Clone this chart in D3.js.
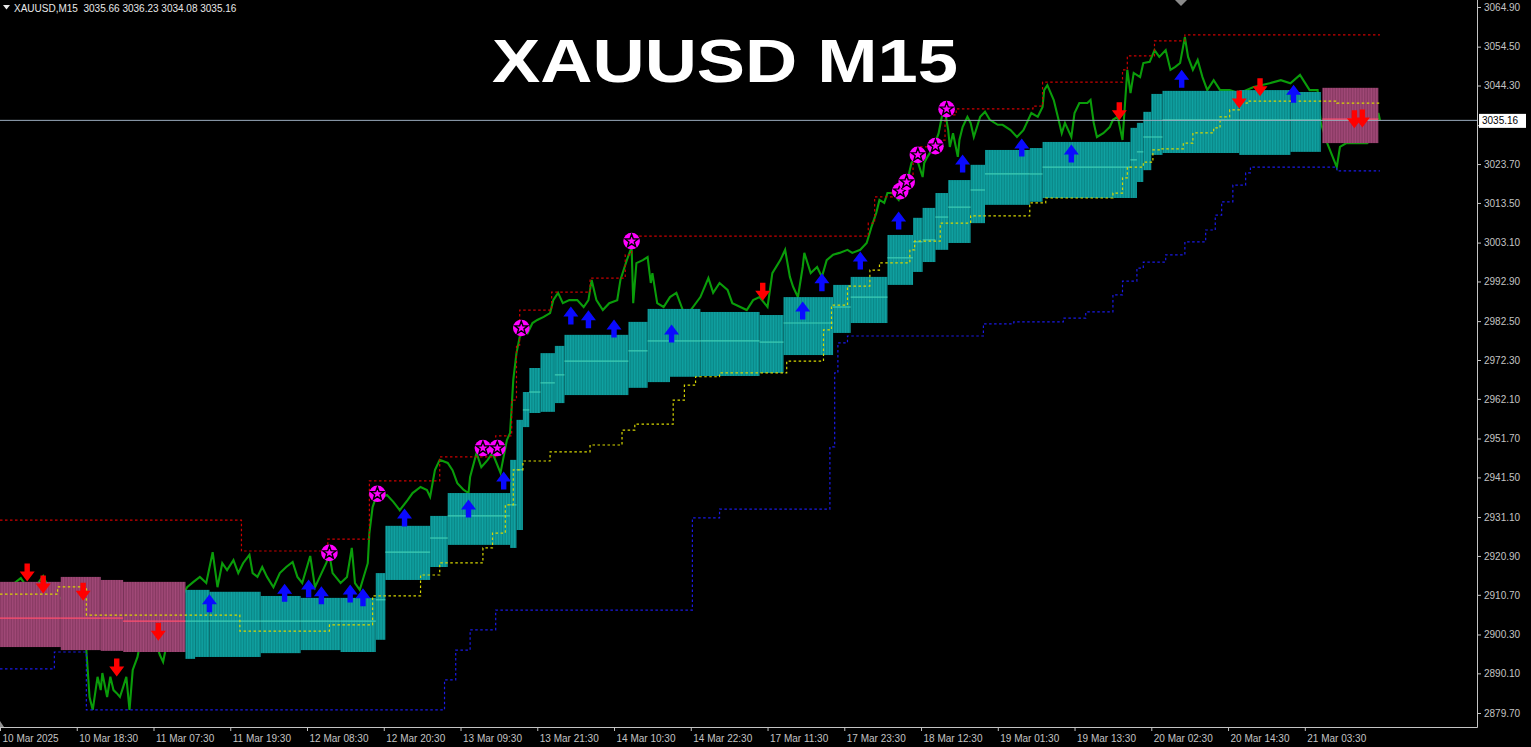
<!DOCTYPE html>
<html><head><meta charset="utf-8">
<script src="https://cdn.jsdelivr.net/npm/d3@7"></script>
<style>body{margin:0;background:#000;overflow:hidden}svg{display:block}</style>
</head><body><svg id="c" width="1531" height="747"></svg>
<script>
// ---------- DATA ----------
const symbolTitle = "XAUUSD M15";
const headerText = "XAUUSD,M15  3035.66 3036.23 3034.08 3035.16";
const lastPrice = 3035.16;
const yTicks = [3064.90,3054.50,3044.30,3033.90,3023.70,3013.50,3003.10,2992.90,2982.50,2972.30,2962.10,2951.70,2941.50,2931.10,2920.90,2910.70,2900.30,2890.10,2879.70];
const hiddenTick = 3033.90; // covered by the last-price label in the reference
const timeLabels = ["10 Mar 2025","10 Mar 18:30","11 Mar 07:30","11 Mar 19:30","12 Mar 08:30","12 Mar 20:30","13 Mar 09:30","13 Mar 21:30","14 Mar 10:30","14 Mar 22:30","17 Mar 11:30","17 Mar 23:30","18 Mar 12:30","19 Mar 01:30","19 Mar 13:30","20 Mar 02:30","20 Mar 14:30","21 Mar 03:30"];
const timeBars = [0,48,96,144,192,240,288,336,384,432,480,528,576,624,672,720,768,816];

// close price [bar index, price]
const price = [[0,2910.7],[5,2912.5],[9,2913.8],[13,2915.1],[18,2912.0],[23,2913.3],[27,2915.6],[31,2912.0],[36,2909.3],[41,2910.7],[45,2908.0],[50,2904.1],[54,2896.2],[56,2883.9],[58,2880.5],[61,2889.2],[63,2885.7],[64,2890.2],[67,2883.9],[69,2889.2],[71,2885.7],[73,2884.9],[75,2883.9],[77,2886.5],[79,2889.2],[81,2880.5],[83,2891.0],[86,2894.4],[88,2898.9],[94,2902.8],[100,2894.9],[102,2893.1],[106,2901.5],[111,2908.0],[117,2912.7],[121,2914.1],[125,2915.4],[129,2913.8],[133,2921.9],[136,2912.7],[139,2919.0],[142,2917.2],[146,2919.8],[149,2916.4],[152,2919.0],[156,2921.2],[158,2916.4],[161,2915.4],[164,2918.0],[167,2915.4],[171,2912.7],[175,2916.4],[179,2918.0],[183,2919.3],[186,2915.4],[189,2913.8],[194,2920.9],[197,2912.7],[200,2915.4],[204,2919.0],[206,2921.2],[208,2916.4],[213,2913.8],[217,2915.4],[220,2923.0],[222,2913.8],[225,2912.0],[230,2919.0],[231,2926.9],[233,2933.7],[236,2937.4],[239,2936.4],[242,2936.9],[246,2935.1],[250,2932.9],[255,2935.6],[258,2937.4],[263,2939.0],[267,2938.2],[269,2936.4],[272,2943.4],[275,2946.1],[280,2945.3],[283,2943.4],[286,2940.0],[290,2938.2],[293,2937.4],[294,2941.6],[298,2947.9],[301,2944.2],[305,2946.1],[308,2947.9],[313,2942.7],[317,2951.3],[319,2953.2],[320,2960.0],[321,2967.1],[323,2974.1],[325,2978.3],[327,2981.0],[330,2979.4],[333,2982.0],[336,2982.8],[340,2983.6],[344,2984.6],[346,2988.0],[349,2989.9],[352,2987.2],[356,2988.0],[361,2988.0],[365,2986.2],[368,2988.0],[370,2993.3],[373,2988.0],[377,2985.4],[381,2987.2],[386,2988.0],[388,2993.3],[392,2998.5],[395,3001.9],[396,2987.2],[398,2997.7],[402,2998.5],[405,2999.3],[407,2992.5],[408,2995.1],[411,2987.2],[415,2986.2],[419,2988.8],[423,2989.9],[427,2985.4],[432,2985.4],[438,2988.8],[443,2993.8],[446,2989.9],[450,2992.5],[455,2990.7],[458,2987.2],[463,2986.2],[467,2985.4],[471,2988.0],[475,2988.8],[480,2986.2],[483,2995.1],[488,2998.5],[491,3001.2],[494,2994.1],[496,2991.5],[499,2988.8],[502,2996.7],[503,3000.4],[507,2995.1],[511,2996.7],[514,2994.1],[517,2998.5],[521,2999.9],[525,3000.4],[530,3001.2],[533,3000.4],[538,3001.2],[542,3003.0],[545,3007.2],[548,3010.9],[550,3014.3],[553,3013.5],[555,3016.1],[558,3016.1],[562,3014.3],[565,3018.7],[568,3020.3],[570,3024.0],[573,3025.6],[577,3020.3],[578,3024.0],[580,3025.6],[584,3028.2],[587,3031.8],[589,3036.1],[591,3037.4],[593,3032.6],[594,3028.2],[596,3031.8],[599,3025.6],[600,3030.0],[602,3033.4],[605,3036.1],[607,3034.5],[609,3030.8],[613,3036.1],[616,3037.4],[619,3035.3],[624,3034.0],[627,3034.0],[632,3032.6],[636,3030.8],[640,3032.6],[643,3035.3],[645,3037.1],[649,3036.1],[652,3038.7],[653,3043.1],[655,3044.4],[659,3040.5],[662,3035.3],[664,3031.8],[666,3034.5],[670,3030.8],[672,3037.1],[675,3039.7],[680,3039.7],[682,3040.5],[684,3034.5],[686,3030.8],[690,3031.8],[694,3033.4],[696,3035.3],[699,3036.1],[702,3030.0],[705,3048.4],[707,3042.3],[709,3047.6],[713,3046.5],[715,3050.2],[719,3050.5],[722,3053.6],[725,3051.8],[729,3053.6],[732,3048.4],[735,3049.2],[738,3050.2],[741,3057.0],[743,3051.8],[746,3048.4],[749,3051.0],[752,3046.5],[755,3043.1],[759,3045.7],[763,3043.1],[769,3043.1],[775,3042.3],[784,3043.9],[794,3044.9],[801,3045.7],[807,3044.9],[813,3047.1],[819,3043.1],[824,3043.1],[826,3034.5],[830,3029.2],[836,3022.9],[838,3028.2],[842,3029.2],[849,3029.2],[855,3029.2],[859,3030.8],[862,3037.1],[863,3035.2]];

// trend cloud segments [startBar, endBar, top, bottom, mid, trend]
const cloud = [[0,38,2914.1,2897.0,2904.6,"down"],[38,63,2915.4,2896.2,2904.6,"down"],[63,77,2914.6,2896.0,2904.6,"down"],[77,116,2914.1,2895.7,2903.8,"down"],
[116,122,2912.0,2893.9,2903.8,"up"],[122,131,2912.0,2894.4,2903.8,"up"],[131,163,2911.5,2894.4,2903.8,"up"],[163,188,2910.4,2895.4,2903.8,"up"],[188,213,2909.9,2896.2,2903.8,"up"],[213,235,2909.9,2895.7,2903.8,"up"],
[235,241,2916.4,2898.9,2909.4,"up"],[241,269,2928.8,2914.6,2921.9,"up"],[269,280,2931.4,2918.0,2925.6,"up"],[280,319,2937.4,2923.8,2931.4,"up"],[319,323,2946.1,2923.0,2934.3,"up"],[323,327,2956.6,2927.7,2943.5,"up"],[327,331,2963.9,2954.7,2959.2,"up"],[331,338,2970.2,2958.4,2963.9,"up"],[338,347,2974.1,2958.7,2966.3,"up"],[347,353,2976.0,2961.0,2968.4,"up"],[353,393,2978.9,2963.1,2972.0,"up"],[393,405,2982.3,2965.0,2974.7,"up"],[405,419,2985.7,2966.5,2977.3,"up"],[419,438,2985.7,2967.9,2977.3,"up"],[438,475,2984.9,2968.1,2977.3,"up"],[475,490,2984.1,2968.9,2977.0,"up"],[490,521,2988.8,2973.6,2982.0,"up"],[521,532,2992.0,2979.4,2986.2,"up"],[532,555,2994.1,2982.0,2988.8,"up"],[555,571,3005.1,2992.0,2999.1,"up"],[571,577,3009.6,2995.4,3003.3,"up"],[577,585,3012.2,2998.0,3003.8,"up"],[585,593,3016.1,3001.2,3009.8,"up"],[593,607,3019.5,3003.0,3012.4,"up"],[607,616,3023.5,3008.2,3016.9,"up"],[616,644,3027.4,3013.0,3021.1,"up"],[644,652,3027.9,3013.8,3021.1,"up"],[652,707,3029.5,3014.8,3022.9,"up"],[707,711,3033.2,3014.8,3024.8,"up"],[711,715,3034.5,3019.0,3026.9,"up"],[715,720,3037.4,3022.1,3030.8,"up"],[720,727,3042.1,3026.1,3030.8,"up"],[727,775,3042.9,3026.6,3035.3,"up"],[775,807,3043.1,3026.1,3035.3,"up"],[807,826,3042.6,3026.9,3035.3,"up"],
[827,862,3043.7,3029.2,3035.5,"down"]];

// trailing stop (yellow) [bar, level]
const trailStop = [[0,2910.9],[36,2912.8],[54,2905.4],[150,2901.2],[206,2902.8],[233,2910.4],[263,2915.9],[275,2919.1],[302,2923.0],[308,2926.9],[316,2934.3],[321,2943.5],[327,2945.8],[344,2948.2],[369,2950.0],[389,2953.9],[397,2955.5],[421,2961.8],[428,2965.7],[435,2967.9],[450,2968.9],[492,2972.0],[515,2980.2],[520,2986.7],[530,2991.7],[544,2995.9],[550,2997.8],[569,3001.2],[572,3003.5],[588,3008.2],[607,3010.1],[644,3013.5],[654,3014.8],[696,3016.1],[702,3020.1],[705,3022.9],[715,3024.2],[721,3027.4],[725,3027.7],[740,3029.2],[746,3031.9],[759,3033.2],[763,3036.1],[769,3037.9],[775,3039.7],[780,3040.2],[836,3039.7],[863,3039.7]];
// resistance (red dotted)
const resistance = [[0,2930.3],[151,2922.2],[205,2925.3],[231,2940.6],[275,2946.9],[310,2952.4],[320,2961.8],[323,2976.2],[325,2985.4],[345,2990.1],[369,2993.8],[391,2999.9],[395,3004.8],[543,3008.2],[547,3015.1],[558,3016.9],[565,3019.0],[571,3026.1],[575,3028.2],[583,3030.0],[591,3036.6],[598,3038.2],[646,3038.9],[652,3045.2],[702,3048.4],[705,3052.1],[722,3056.0],[741,3057.6],[863,3057.6]];
// support (blue dotted)
const support = [[0,2891.3],[34,2895.7],[54,2880.5],[278,2888.4],[285,2896.2],[294,2901.5],[310,2906.7],[433,2930.9],[450,2933.2],[519,2949.5],[522,2968.9],[524,2976.8],[530,2978.6],[615,2981.8],[634,2982.3],[665,2983.3],[679,2984.9],[696,2989.4],[702,2993.0],[711,2996.4],[715,2998.0],[729,2999.9],[741,3003.3],[754,3006.4],[760,3010.3],[764,3013.8],[771,3018.2],[779,3021.4],[782,3022.9],[836,3021.9],[863,3021.9]];

// signals [bar, price]
const sellArrows = [[17,2916.4],[27,2913.3],[52,2911.4],[73,2891.5],[99,2900.9],[477,2990.1],[700,3037.4],[775,3040.5],[788,3043.7],[847,3035.3],[852,3035.5]];
const buyArrows = [[131,2908.6],[178,2911.4],[193,2912.5],[201,2910.7],[219,2911.2],[227,2910.2],[253,2931.1],[293,2933.5],[315,2940.8],[357,2984.1],[368,2983.1],[384,2980.7],[420,2979.4],[502,2985.4],[514,2992.8],[538,2998.5],[562,3009.0],[602,3024.0],[639,3028.2],[670,3026.6],[739,3046.2],[809,3042.3]];
const breakoutStars = [[206,2921.7],[236,2937.2],[302,2949.2],[311,2949.2],[326,2980.7],[395,3003.5],[563,3016.6],[567,3019.0],[574,3026.1],[585,3028.4],[592,3038.1]];

// ---------- CHART ----------
const W = 1531, H = 747, plotR = 1477, plotB = 727;
const svg = d3.select('#c');
svg.append('rect').attr('width',W).attr('height',H).attr('fill','#000');

const x = d3.scaleLinear().domain([0, 924]).range([0, 1477.5]);
const y = d3.scaleLinear().domain([2879.7, 3064.9]).range([713, 7]);

const defs = svg.append('defs');
defs.append('clipPath').attr('id','clip').append('rect').attr('width',plotR).attr('height',plotB);
const bw = x(1) - x(0);
function stripe(id, base, dark){
  const p = defs.append('pattern').attr('id',id).attr('patternUnits','userSpaceOnUse').attr('width',bw).attr('height',8);
  p.append('rect').attr('width',bw).attr('height',8).attr('fill',base);
  p.append('rect').attr('width',0.55).attr('height',8).attr('fill',dark);
}
stripe('pUp','#10a3a3','#077a7a');
stripe('pDown','#a34a79','#7a3157');

const g = svg.append('g').attr('clip-path','url(#clip)');

// price line
g.append('path').datum(price)
  .attr('d', d3.line().x(d=>x(d[0])).y(d=>y(d[1])))
  .attr('fill','none').attr('stroke','#0a9c0a').attr('stroke-width',2.1).attr('stroke-linejoin','miter');

// cloud
g.selectAll('rect.cloud').data(cloud).join('rect').attr('class','cloud')
  .attr('x', d=>x(d[0])).attr('width', d=>x(d[1])-x(d[0]))
  .attr('y', d=>y(d[2])).attr('height', d=>y(d[3])-y(d[2]))
  .attr('fill', d=>d[5]==='up'?'url(#pUp)':'url(#pDown)');
g.selectAll('line.mid').data(cloud).join('line').attr('class','mid')
  .attr('x1', d=>x(d[0])).attr('x2', d=>x(d[1]))
  .attr('y1', d=>y(d[4])).attr('y2', d=>y(d[4]))
  .attr('stroke', d=>d[5]==='up'?'#3fcdb3':'#ff4f6e').attr('stroke-width',1.2);

// dotted levels
const stepLine = d3.line().x(d=>x(d[0])).y(d=>y(d[1])).curve(d3.curveStepAfter);
function dotted(data, color){
  g.append('path').datum(data).attr('d', stepLine).attr('fill','none')
   .attr('stroke',color).attr('stroke-width',1.2).attr('stroke-dasharray','2.5,2.5');
}
dotted(resistance,'#cc0000');
dotted(support,'#1a1ae6');
dotted(trailStop,'#d8d800');

// current price line
g.append('line').attr('x1',0).attr('x2',plotR).attr('y1',y(lastPrice)).attr('y2',y(lastPrice))
  .attr('stroke','#9aabbd').attr('stroke-width',1);

// arrows
const downArrow = 'M-2.7,-9.5 H2.7 V-1.5 H7.5 L0,8.5 L-7.5,-1.5 H-2.7 Z';
const upArrow = 'M-2.7,9.5 H2.7 V1.5 H7.5 L0,-8.5 L-7.5,1.5 H-2.7 Z';
g.selectAll('path.sell').data(sellArrows).join('path').attr('class','sell')
  .attr('d',downArrow).attr('transform',d=>`translate(${x(d[0])},${y(d[1])})`).attr('fill','#ff0000');
g.selectAll('path.buy').data(buyArrows).join('path').attr('class','buy')
  .attr('d',upArrow).attr('transform',d=>`translate(${x(d[0])},${y(d[1])})`).attr('fill','#0a0aff');

// stars
function starPath(R, r){
  const pts=[];
  for(let k=0;k<10;k++){const a=-Math.PI/2+k*Math.PI/5;const rr=k%2?r:R;pts.push([rr*Math.cos(a),rr*Math.sin(a)]);}
  return 'M'+pts.map(p=>p.join(',')).join('L')+'Z';
}
const sg = g.selectAll('g.star').data(breakoutStars).join('g').attr('class','star')
  .attr('transform',d=>`translate(${x(d[0])},${y(d[1])})`);
sg.append('circle').attr('r',8.3).attr('fill','#ff00ff');
sg.append('path').attr('d',starPath(6.8,2.8)).attr('fill','none').attr('stroke','#000').attr('stroke-width',1.4);

// title
svg.append('text').attr('x',725).attr('y',82).attr('text-anchor','middle')
  .attr('font-family','Liberation Sans, Arial, sans-serif').attr('font-weight','bold').attr('font-size',61)
  .attr('textLength',466).attr('lengthAdjust','spacingAndGlyphs')
  .attr('fill','#ffffff').text(symbolTitle);

// header
svg.append('path').attr('d','M3,5 H10 L6.5,9.5 Z').attr('fill','#e8e8e8');
svg.append('text').attr('x',14).attr('y',12).attr('font-family','Liberation Sans, Arial, sans-serif')
  .attr('font-size',10).attr('fill','#e8e8e8').attr('xml:space','preserve').style('white-space','pre').text(headerText);

// shift marker
svg.append('path').attr('d','M1175,0 H1187 L1181,6 Z').attr('fill','#8a8a8a');

// axes
const axisColor = '#c4c4c4';
const yAxis = d3.axisRight(y).tickValues(yTicks).tickFormat(d=>d===hiddenTick?'':d.toFixed(2)).tickSize(4).tickSizeOuter(0).tickPadding(3);
const ya = svg.append('g').attr('transform',`translate(${plotR},0)`).call(yAxis);
ya.select('.domain').remove();
ya.selectAll('line').attr('stroke',axisColor);
ya.selectAll('text').attr('fill',axisColor).attr('font-family','Liberation Sans, Arial, sans-serif').attr('font-size',10);

const xAxis = d3.axisBottom(x).tickValues(timeBars).tickFormat((d,i)=>timeLabels[i]).tickSize(4).tickSizeOuter(0).tickPadding(4);
const xa = svg.append('g').attr('transform',`translate(0,${plotB})`).call(xAxis);
xa.select('.domain').remove();
xa.selectAll('line').attr('stroke',axisColor);
xa.selectAll('text').attr('text-anchor','start').attr('x',2).attr('fill',axisColor)
  .attr('font-family','Liberation Sans, Arial, sans-serif').attr('font-size',10);

svg.append('line').attr('x1',plotR+0.5).attr('x2',plotR+0.5).attr('y1',0).attr('y2',plotB+0.5).attr('stroke',axisColor);
svg.append('line').attr('x1',0).attr('x2',plotR+0.5).attr('y1',plotB+0.5).attr('y2',plotB+0.5).attr('stroke',axisColor);
svg.append('path').attr('d',`M0,${plotB-6} L4,${plotB} L0,${plotB} Z`).attr('fill','#909090');

// last price label
svg.append('rect').attr('x',1479).attr('y',y(lastPrice)-6.5).attr('width',47).attr('height',14).attr('fill','#ffffff');
svg.append('text').attr('x',1482).attr('y',y(lastPrice)+4).attr('font-family','Liberation Sans, Arial, sans-serif')
  .attr('font-size',10).attr('fill','#000').text(lastPrice.toFixed(2));
</script>
</body></html>
